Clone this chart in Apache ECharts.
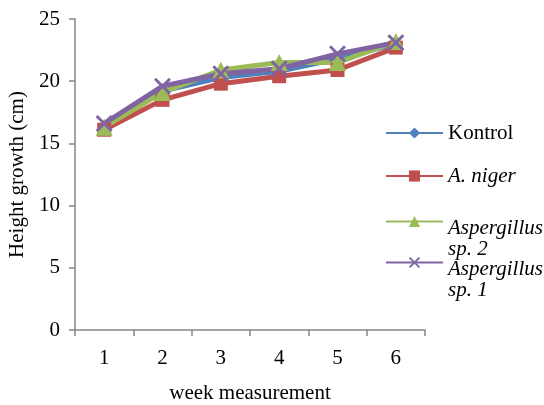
<!DOCTYPE html>
<html><head><meta charset="utf-8">
<script src="https://cdn.jsdelivr.net/npm/echarts@6/dist/echarts.min.js"></script>
<style>html,body{margin:0;padding:0;background:#fff}#c{width:544px;height:405px}</style>
</head><body><div id="c"></div>
<script>
const weeks = ['1','2','3','4','5','6'];
const kontrol = [16.5, 19.2, 20.3, 20.8, 21.8, 23.0];
const aNiger = [16.1, 18.5, 19.8, 20.4, 20.9, 22.7];
const aspSp2 = [16.3, 19.1, 20.9, 21.5, 21.5, 23.2];
const aspSp1 = [16.6, 19.6, 20.6, 21.0, 22.2, 23.1];
const seriesNames = ['Kontrol', 'A. niger', 'Aspergillus\nsp. 2', 'Aspergillus\nsp. 1'];

const font = "Liberation Serif";
const fs = 21;
const xPath = 'path://M0,1.2L1.2,0L5,3.8L8.8,0L10,1.2L6.2,5L10,8.8L8.8,10L5,6.2L1.2,10L0,8.8L3.8,5Z';
const defs = [
  {name: seriesNames[0], data: kontrol, color: '#4F81BD', symbol: 'diamond', size: 9},
  {name: seriesNames[1], data: aNiger, color: '#C0504D', symbol: 'rect', size: 14},
  {name: seriesNames[2], data: aspSp2, color: '#9BBB59', symbol: 'triangle', size: 17},
  {name: seriesNames[3], data: aspSp1, color: '#8064A2', symbol: xPath, size: 17}
];
const legendTops = [122, 165, 183, 224];
const legends = defs.map((d, i) => {
  const multi = d.name.indexOf('\n') >= 0;
  return {
    data: [d.name],
    left: 385,
    top: legendTops[i],
    orient: 'vertical',
    itemWidth: 57,
    itemHeight: 14,
    itemGap: 5,
    padding: 0,
    formatter: multi ? (n => '{b| }\n{a|' + n.split('\n').join('}\n{a|') + '}') : null,
    textStyle: {
      fontFamily: font, fontSize: fs, color: '#000',
      fontStyle: i === 0 ? 'normal' : 'italic',
      lineHeight: 22,
      rich: {
        a: {fontFamily: font, fontSize: fs, fontStyle: 'italic', lineHeight: 21, color: '#000'},
        b: {fontSize: 2, lineHeight: 35}
      }
    }
  };
});

const option = {
  animation: false,
  backgroundColor: '#fff',
  textStyle: {fontFamily: font},
  grid: {left: 75, right: 119, top: 19, bottom: 75, containLabel: false, outerBoundsMode: 'none'},
  legend: legends,
  xAxis: {
    type: 'category', data: weeks, boundaryGap: true,
    name: 'week measurement', nameLocation: 'middle', nameGap: 53,
    nameTextStyle: {fontFamily: font, fontSize: fs, color: '#000'},
    axisLine: {lineStyle: {color: '#868686', width: 1.5}},
    axisTick: {show: true, inside: false, length: 6, lineStyle: {color: '#868686', width: 1.5}},
    axisLabel: {fontFamily: font, fontSize: fs, color: '#000', margin: 18}
  },
  yAxis: {
    type: 'value', min: 0, max: 25, interval: 5,
    name: 'Height growth (cm)', nameLocation: 'middle', nameGap: 44,
    nameTextStyle: {fontFamily: font, fontSize: fs, color: '#000'},
    axisLine: {show: true, lineStyle: {color: '#868686', width: 1.5}},
    axisTick: {show: true, length: 6, lineStyle: {color: '#868686', width: 1.5}},
    splitLine: {show: false},
    axisLabel: {fontFamily: font, fontSize: fs, color: '#000', margin: 15}
  },
  series: defs.map(d => ({
    type: 'line', name: d.name, data: d.data,
    symbol: d.symbol, symbolSize: d.size,
    lineStyle: {color: d.color, width: 5},
    itemStyle: {color: d.color},
    showAllSymbol: true
  }))
};
const chart = echarts.init(document.getElementById('c'), null, {renderer: 'canvas'});
chart.setOption(option);
</script></body></html>
